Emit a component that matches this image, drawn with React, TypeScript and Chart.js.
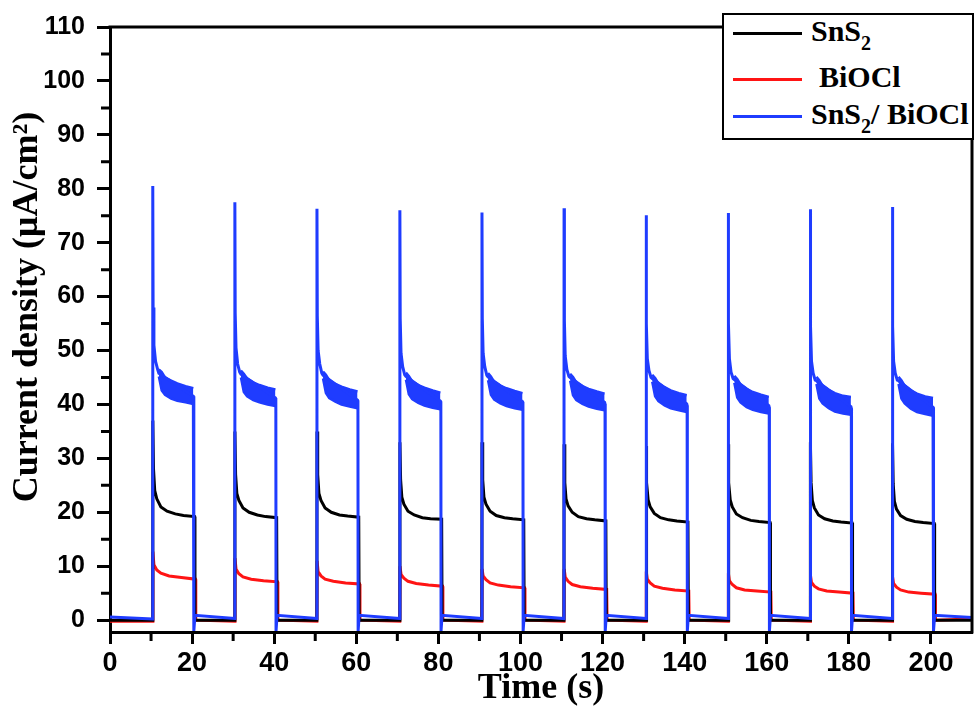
import React, { useEffect, useRef } from "react";
import { Chart, registerables } from "chart.js";

Chart.register(...registerables);

// ---- data ----
const onTimes = [10.4, 30.4, 50.4, 70.6, 90.6, 110.6, 130.6, 150.6, 170.6, 190.6];

const xTickMinor = [10, 30, 50, 70, 90, 110, 130, 150, 170, 190];
const yTickMinor = [5, 15, 25, 35, 45, 55, 65, 75, 85, 95, 105];

// SnS2 (black): offsets after light on and values per pulse
const snsOffsets = [0, 0.03, 0.2, 0.5, 1, 2, 3.5, 5.5, 7.5, 10.2, 10.3];
const snsPulses = [
  [0, 37.0, 28.0, 24.0, 22.5, 21.0, 20.2, 19.7, 19.4, 19.2, 0],
  [0, 35.0, 27.0, 23.5, 22.2, 20.8, 20.0, 19.5, 19.2, 19.0, 0],
  [0, 35.0, 27.0, 23.5, 22.2, 20.8, 20.0, 19.5, 19.3, 19.1, 0],
  [0, 33.0, 26.0, 22.8, 21.5, 20.2, 19.5, 19.0, 18.8, 18.7, 0],
  [0, 33.0, 26.0, 22.8, 21.5, 20.2, 19.4, 19.0, 18.8, 18.6, 0],
  [0, 32.6, 25.5, 22.5, 21.2, 20.0, 19.2, 18.8, 18.6, 18.4, 0],
  [0, 32.3, 25.5, 22.3, 21.0, 19.8, 19.0, 18.6, 18.4, 18.2, 0],
  [0, 32.6, 25.5, 22.3, 21.0, 19.7, 19.0, 18.5, 18.3, 18.1, 0],
  [0, 33.0, 25.5, 22.2, 20.8, 19.5, 18.8, 18.4, 18.2, 18.0, 0],
  [0, 32.8, 25.3, 22.0, 20.6, 19.4, 18.7, 18.3, 18.1, 17.9, 0],
];
const snsStart = [0, 0];
const snsEnd = [210, 0];

// BiOCl (red)
const bioOffsets = [0, 0.05, 0.3, 1, 2, 4, 7, 10.4, 10.5];
const bioPulses = [
  [-0.2, 12.7, 10.3, 9.3, 8.7, 8.2, 7.9, 7.6, 0],
  [-0.2, 11.5, 9.5, 8.6, 8.0, 7.6, 7.3, 7.1, 0],
  [-0.2, 11.0, 9.0, 8.2, 7.6, 7.2, 6.9, 6.7, 0],
  [-0.2, 10.0, 8.5, 7.8, 7.2, 6.8, 6.5, 6.3, 0],
  [-0.2, 9.5, 8.2, 7.5, 6.9, 6.5, 6.2, 6.0, 0],
  [-0.2, 9.5, 8.0, 7.2, 6.6, 6.2, 5.9, 5.7, 0],
  [-0.2, 9.0, 7.6, 6.9, 6.3, 5.9, 5.6, 5.4, 0],
  [-0.2, 8.7, 7.3, 6.6, 6.0, 5.6, 5.4, 5.2, 0],
  [-0.2, 8.3, 7.0, 6.3, 5.8, 5.4, 5.2, 5.0, 0],
  [-0.2, 8.0, 6.8, 6.1, 5.6, 5.2, 5.0, 4.8, 0],
];
const bioStart = [0, -0.2];
const bioEnd = [210, 0.2];

// SnS2/BiOCl (blue): main trace
const hetOffsets = [0, 0.02, 0.1, 0.3, 0.7, 1.2, 1.5, 9.9, 10.0, 10.05, 10.3];
const hetPulses = [
  [0.2, 80.5, 58.0, 51.0, 48.0, 46.5, 45.8, 41.5, 41.2, -2.0, 0.9],
  [0.3, 77.5, 57.0, 50.5, 47.5, 46.0, 45.6, 41.2, 40.9, -2.0, 0.9],
  [0.3, 76.3, 56.5, 50.0, 47.5, 45.8, 45.4, 40.8, 40.5, -2.0, 0.9],
  [0.3, 76.0, 56.0, 49.5, 47.0, 45.5, 45.2, 40.6, 40.3, -2.0, 0.9],
  [0.3, 75.6, 56.0, 49.5, 47.0, 45.4, 45.1, 40.5, 40.2, -2.0, 0.9],
  [0.3, 76.4, 55.5, 49.0, 46.5, 45.2, 45.0, 40.4, 40.1, -2.0, 0.9],
  [0.3, 75.1, 55.0, 48.5, 46.3, 45.0, 44.8, 40.1, 39.8, -2.0, 0.9],
  [0.3, 75.5, 55.0, 48.5, 46.0, 44.8, 44.6, 39.8, 39.5, -2.0, 0.9],
  [0.3, 76.2, 54.5, 48.0, 45.8, 44.5, 44.4, 39.6, 39.3, -2.0, 0.9],
  [0.3, 76.6, 54.5, 48.0, 45.8, 44.5, 44.4, 39.5, 39.2, -2.0, 0.9],
];
const hetStart = [0, 0.6];
const hetEnd = [210, 0.5];

// SnS2/BiOCl noisy plateau: upper and lower envelope of the noise band
const bandOffsets = [1.5, 2.2, 3, 4.5, 6, 8, 9.9];
const bandUpper = [
  [46.5, 46.0, 45.0, 44.4, 43.9, 43.4, 43.0],
  [46.3, 45.7, 44.8, 44.1, 43.6, 43.1, 42.8],
  [46.1, 45.5, 44.5, 43.8, 43.3, 42.8, 42.4],
  [45.9, 45.3, 44.3, 43.6, 43.1, 42.6, 42.2],
  [45.8, 45.2, 44.2, 43.5, 43.0, 42.5, 42.1],
  [45.7, 45.1, 44.1, 43.4, 42.9, 42.4, 42.0],
  [45.5, 44.9, 43.9, 43.2, 42.6, 42.1, 41.7],
  [45.3, 44.7, 43.7, 42.9, 42.3, 41.8, 41.4],
  [45.1, 44.5, 43.5, 42.7, 42.1, 41.6, 41.4],
  [45.1, 44.5, 43.5, 42.6, 42.0, 41.5, 41.2],
];
const bandLower = [
  [45.2, 42.6, 41.8, 41.1, 40.7, 40.4, 40.1],
  [45.0, 42.3, 41.5, 40.8, 40.4, 40.0, 39.7],
  [44.8, 42.1, 41.2, 40.5, 40.0, 39.6, 39.3],
  [44.6, 41.9, 41.0, 40.3, 39.8, 39.4, 39.1],
  [44.5, 41.8, 40.9, 40.2, 39.7, 39.3, 39.0],
  [44.4, 41.7, 40.8, 40.1, 39.6, 39.2, 38.9],
  [44.2, 41.5, 40.6, 39.8, 39.3, 38.9, 38.6],
  [44.0, 41.3, 40.4, 39.5, 39.0, 38.6, 38.3],
  [43.8, 41.1, 40.2, 39.3, 38.7, 38.3, 38.1],
  [43.8, 41.1, 40.2, 39.2, 38.6, 38.2, 37.9],
];

const seriesNames = ["SnS2", "BiOCl", "SnS2/ BiOCl"];
const seriesColors = ["#000000", "#ff1414", "#1f3cff"];

function buildSeries(start: number[], offsets: number[], pulses: number[][], end: number[]) {
  const pts: { x: number; y: number }[] = [{ x: start[0], y: start[1] }];
  pulses.forEach((vals, i) => {
    offsets.forEach((o, j) => pts.push({ x: onTimes[i] + o, y: vals[j] }));
  });
  pts.push({ x: end[0], y: end[1] });
  return pts;
}

function bandPoints(i: number, vals: number[]) {
  return bandOffsets.map((o, j) => ({ x: onTimes[i] + o, y: vals[j] }));
}

const framePlugin = {
  id: "frameAndMinor",
  afterDraw(chart: any) {
    const { ctx, chartArea, scales } = chart;
    const { left, right, top, bottom } = chartArea;
    const xs = scales.x;
    const ys = scales.y;
    ctx.save();
    ctx.strokeStyle = "#000";
    ctx.lineWidth = 3;
    ctx.beginPath();
    ctx.moveTo(left - 1.5, top);
    ctx.lineTo(right, top);
    ctx.lineTo(right, bottom + 1.5);
    ctx.stroke();
    ctx.beginPath();
    xTickMinor.forEach((v) => {
      const px = xs.getPixelForValue(v);
      ctx.moveTo(px, bottom);
      ctx.lineTo(px, bottom + 9);
    });
    yTickMinor.forEach((v) => {
      const py = ys.getPixelForValue(v);
      ctx.moveTo(left, py);
      ctx.lineTo(left - 9, py);
    });
    ctx.stroke();
    // axis titles
    ctx.fillStyle = "#000";
    ctx.textAlign = "center";
    ctx.textBaseline = "alphabetic";
    ctx.font = "bold 36px 'Liberation Serif', 'Times New Roman', serif";
    ctx.fillText("Time (s)", (left + right) / 2, 698);
    ctx.translate(37, 307);
    ctx.rotate(-Math.PI / 2);
    ctx.fillText("Current density (\u03bcA/cm\u00b2)", 0, 0);
    ctx.restore();
  },
};

export default function App() {
  const ref = useRef<HTMLCanvasElement>(null);

  useEffect(() => {
    if (!ref.current) return;
    const bandSets: any[] = [];
    onTimes.forEach((_, i) => {
      bandSets.push({
        label: "band-upper-" + i,
        data: bandPoints(i, bandUpper[i]),
        borderColor: seriesColors[2],
        borderWidth: 2.5,
        pointRadius: 0,
        fill: false,
        order: 0,
      });
      bandSets.push({
        label: "band-lower-" + i,
        data: bandPoints(i, bandLower[i]),
        borderColor: seriesColors[2],
        backgroundColor: seriesColors[2],
        borderWidth: 2.5,
        pointRadius: 0,
        fill: "-1",
        order: 0,
      });
    });
    const chart = new Chart(ref.current, {
      type: "line",
      data: {
        datasets: [
          {
            label: seriesNames[0],
            data: buildSeries(snsStart, snsOffsets, snsPulses, snsEnd),
            borderColor: seriesColors[0],
            borderWidth: 3,
            pointRadius: 0,
            order: 1,
          },
          {
            label: seriesNames[1],
            data: buildSeries(bioStart, bioOffsets, bioPulses, bioEnd),
            borderColor: seriesColors[1],
            borderWidth: 3,
            pointRadius: 0,
            order: 2,
          },
          {
            label: seriesNames[2],
            data: buildSeries(hetStart, hetOffsets, hetPulses, hetEnd),
            borderColor: seriesColors[2],
            borderWidth: 3,
            pointRadius: 0,
            order: 0,
          },
          ...bandSets,
        ],
      },
      options: {
        responsive: false,
        animation: false,
        layout: { padding: { top: 15, right: 8, left: 0, bottom: 0 } },
        plugins: { legend: { display: false }, tooltip: { enabled: false } },
        scales: {
          x: {
            type: "linear",
            min: 0,
            max: 210,
            afterFit: (s: any) => {
              s.height = 87;
            },
            border: { display: true, color: "#000", width: 3 },
            grid: {
              display: true,
              drawOnChartArea: false,
              drawTicks: true,
              tickLength: 12,
              tickWidth: 3,
              tickColor: "#000",
            },
            ticks: {
              stepSize: 20,
              includeBounds: false,
              color: "#000",
              padding: 3,
              maxRotation: 0,
              font: { family: "'Liberation Sans', Arial, sans-serif", weight: "bold", size: 27 },
            },
          },
          y: {
            type: "linear",
            min: -2.2,
            max: 110,
            afterFit: (s: any) => {
              s.width = 110;
            },
            border: { display: true, color: "#000", width: 3 },
            grid: {
              display: true,
              drawOnChartArea: false,
              drawTicks: true,
              tickLength: 13,
              tickWidth: 3,
              tickColor: "#000",
            },
            ticks: {
              stepSize: 10,
              includeBounds: false,
              color: "#000",
              padding: 12,
              font: { family: "'Liberation Sans', Arial, sans-serif", weight: "bold", size: 25 },
            },
          },
        },
      },
      plugins: [framePlugin],
    } as any);
    return () => chart.destroy();
  }, []);

  const rowStyle = (top: number): React.CSSProperties => ({
    position: "absolute",
    left: 0,
    top,
    height: 0,
    width: "100%",
  });
  const lineStyle = (color: string): React.CSSProperties => ({
    position: "absolute",
    left: 9,
    top: -1.5,
    width: 69,
    height: 3,
    background: color,
  });
  const textStyle = (left: number): React.CSSProperties => ({
    position: "absolute",
    left,
    top: -18,
    lineHeight: "32px",
    whiteSpace: "nowrap",
  });
  const subStyle: React.CSSProperties = { fontSize: 20, verticalAlign: "-9px", lineHeight: 0 };

  return (
    <div style={{ position: "absolute", left: 0, top: 0, width: 980, height: 719, background: "#fff" }}>
      <canvas ref={ref} width={980} height={719} style={{ display: "block" }} />
      <div
        style={{
          position: "absolute",
          left: 722,
          top: 13,
          width: 252,
          height: 127,
          border: "2px solid #000",
          boxSizing: "border-box",
          background: "#fff",
          fontFamily: "'Liberation Serif', 'Times New Roman', serif",
          fontWeight: "bold",
          fontSize: 30,
          color: "#000",
        }}
      >
        <div style={rowStyle(18)}>
          <div style={lineStyle(seriesColors[0])} />
          <div style={textStyle(87)}>
            SnS<span style={subStyle}>2</span>
          </div>
        </div>
        <div style={rowStyle(64)}>
          <div style={lineStyle(seriesColors[1])} />
          <div style={textStyle(95)}>BiOCl</div>
        </div>
        <div style={rowStyle(101)}>
          <div style={lineStyle(seriesColors[2])} />
          <div style={textStyle(87)}>
            SnS<span style={subStyle}>2</span>/ BiOCl
          </div>
        </div>
      </div>
    </div>
  );
}
